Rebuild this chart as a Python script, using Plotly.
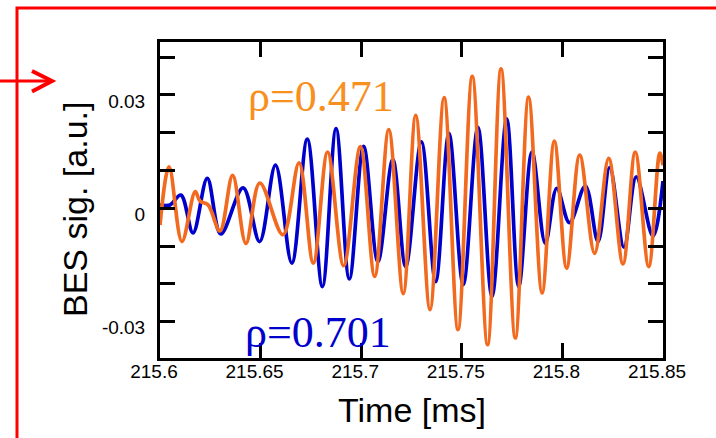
import plotly.graph_objects as go

# ---- data ----
blue_t = [215.6000, 215.6050, 215.6104, 215.6164, 215.6235, 215.6302, 215.6413, 215.6495, 215.6574,
          215.6655, 215.6732, 215.6807, 215.6875, 215.6941, 215.7012, 215.7083, 215.7157, 215.7221,
          215.7299, 215.7370, 215.7436, 215.7507, 215.7580, 215.7650, 215.7723, 215.7783, 215.7849,
          215.7915, 215.7972, 215.8035, 215.8114, 215.8177, 215.8235, 215.8306, 215.8367, 215.8450,
          215.8500]
blue_v = [0.0009, 0.0009, 0.0035, -0.0065, 0.0079, -0.0068, 0.0054, -0.0088, 0.0114,
          -0.0145, 0.0183, -0.0207, 0.0211, -0.0187, 0.0164, -0.0141, 0.0129, -0.0154,
          0.0176, -0.0194, 0.0198, -0.0202, 0.0214, -0.0233, 0.0237, -0.0207, 0.0149,
          -0.0092, 0.0053, -0.0038, 0.0059, -0.0088, 0.0108, -0.0103, 0.0083, -0.0073,
          0.0072]

orange_t = [215.6000, 215.6045, 215.6109, 215.6175, 215.6199, 215.6239, 215.6298, 215.6361, 215.6427,
            215.6496, 215.6611, 215.6691, 215.6762, 215.6833, 215.6913, 215.6996, 215.7067, 215.7137,
            215.7209, 215.7271, 215.7342, 215.7412, 215.7481, 215.7552, 215.7628, 215.7695, 215.7766,
            215.7832, 215.7899, 215.7960, 215.8021, 215.8086, 215.8160, 215.8230, 215.8301, 215.8362,
            215.8429, 215.8484, 215.8500]
orange_v = [-0.0044, 0.0110, -0.0088, 0.0044, 0.0019, 0.0009, -0.0060, 0.0087, -0.0093,
            0.0067, -0.0070, 0.0120, -0.0145, 0.0149, -0.0152, 0.0163, -0.0180, 0.0208,
            -0.0226, 0.0246, -0.0268, 0.0293, -0.0321, 0.0349, -0.0361, 0.0369, -0.0343,
            0.0294, -0.0224, 0.0178, -0.0158, 0.0141, -0.0119, 0.0132, -0.0147, 0.0149,
            -0.0154, 0.0146, 0.0114]

x_ticks = [215.6, 215.65, 215.7, 215.75, 215.8, 215.85]
x_tick_labels = ["215.6", "215.65", "215.7", "215.75", "215.8", "215.85"]
y_ticks = [-0.03, -0.02, -0.01, 0.0, 0.01, 0.02, 0.03, 0.04]
y_tick_labels = ["-0.03", "", "", "0", "", "", "0.03", ""]

label_blue = "ρ=0.701"
label_orange = "ρ=0.471"
x_title = "Time [ms]"
y_title = "BES sig. [a.u.]"

BLUE = "#0000CC"
ORANGE_LINE = "#F26A1F"
ORANGE_TEXT = "#F7901E"
RED = "#FF0000"

# plot area geometry in pixels
W, H = 716, 438
L, R, T, B = 160, 663, 42, 358


def px(xp):
    return (xp - L) / (R - L)


def py(yp):
    return (B - yp) / (B - T)


fig = go.Figure()
fig.add_trace(go.Scatter(x=blue_t, y=blue_v, mode="lines",
                         line=dict(color=BLUE, width=3.7, shape="spline", smoothing=1.0)))
fig.add_trace(go.Scatter(x=orange_t, y=orange_v, mode="lines",
                         line=dict(color=ORANGE_LINE, width=3.7, shape="spline", smoothing=1.0)))

axis_font = dict(family="Liberation Sans, Arial, sans-serif", size=19, color="black")

fig.update_layout(
    width=W, height=H,
    margin=dict(l=L, r=W - R, t=T, b=H - B, pad=0),
    paper_bgcolor="white", plot_bgcolor="white",
    showlegend=False,
    xaxis=dict(range=[215.6, 215.85], tickvals=x_ticks, ticktext=x_tick_labels,
               ticks="inside", ticklen=15, tickwidth=3, tickcolor="black",
               showline=True, linewidth=3, linecolor="black", mirror="ticks",
               showgrid=False, zeroline=False, tickfont=axis_font,
               ticklabelstandoff=-6, ticklabelshift=-6),
    yaxis=dict(range=[-0.0396, 0.0440], tickvals=y_ticks, ticktext=y_tick_labels,
               ticks="inside", ticklen=15, tickwidth=3, tickcolor="black",
               showline=True, linewidth=3, linecolor="black", mirror="ticks",
               showgrid=False, zeroline=False, tickfont=axis_font,
               ticklabelstandoff=8, ticklabelshift=6),
)

fig.add_annotation(text=x_title, xref="paper", yref="paper", x=px(412), y=py(410),
                   xanchor="center", yanchor="middle", showarrow=False,
                   font=dict(family="Liberation Sans, Arial, sans-serif", size=34, color="black"))
fig.add_annotation(text=y_title, xref="paper", yref="paper", x=px(75), y=py(210),
                   xanchor="center", yanchor="middle", showarrow=False, textangle=-90,
                   font=dict(family="Liberation Sans, Arial, sans-serif", size=34, color="black"))
fig.add_annotation(text=label_orange, xref="paper", yref="paper", x=px(321), y=py(96),
                   xanchor="center", yanchor="middle", showarrow=False,
                   font=dict(family="Liberation Serif, Times New Roman, serif", size=44, color=ORANGE_TEXT))
fig.add_annotation(text=label_blue, xref="paper", yref="paper", x=px(318), y=py(332),
                   xanchor="center", yanchor="middle", showarrow=False,
                   font=dict(family="Liberation Serif, Times New Roman, serif", size=44, color=BLUE))

# red frame and arrow
fig.add_shape(type="path", xref="paper", yref="paper",
              path=f"M {px(17)},{py(460)} L {px(17)},{py(8)} L {px(760)},{py(8)}",
              line=dict(color=RED, width=3))
fig.add_shape(type="line", xref="paper", yref="paper",
              x0=px(-5), y0=py(81), x1=px(51), y1=py(81),
              line=dict(color=RED, width=3))
fig.add_shape(type="path", xref="paper", yref="paper",
              path=f"M {px(32)},{py(71)} L {px(52)},{py(81)} L {px(32)},{py(91.5)}",
              line=dict(color=RED, width=4))

fig.write_html("out.html")
